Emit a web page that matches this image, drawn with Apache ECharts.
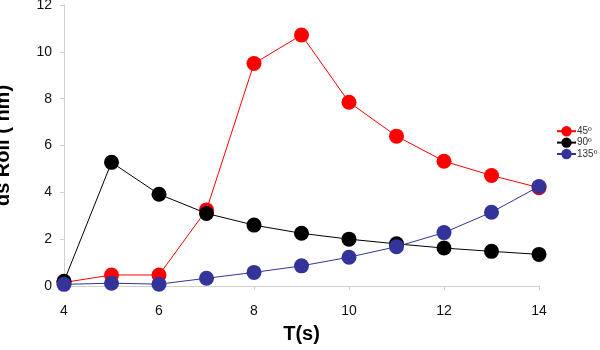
<!DOCTYPE html>
<html>
<head>
<meta charset="utf-8">
<script src="https://cdn.jsdelivr.net/npm/echarts@6/dist/echarts.min.js"></script>
<style>
  html, body { margin: 0; padding: 0; background: #fff; }
  #chart { width: 600px; height: 350px; }
</style>
</head>
<body>
<div id="chart"></div>
<script>
const times = [4, 5, 6, 7, 8, 9, 10, 11, 12, 13, 14];
const deg45 = [0.15, 0.47, 0.47, 3.25, 9.5, 10.72, 7.85, 6.4, 5.33, 4.72, 4.2];
const deg90 = [0.2, 5.28, 3.92, 3.1, 2.6, 2.25, 2.0, 1.8, 1.62, 1.48, 1.35];
const deg135 = [0.07, 0.12, 0.08, 0.33, 0.58, 0.86, 1.23, 1.68, 2.28, 3.15, 4.25];

const names = ["45º", "90º", "135º"];
const colors = ["#ff0000", "#000000", "#333399"];
const values = [deg45, deg90, deg135];

const font = "Liberation Sans, Arial, sans-serif";

const chart = echarts.init(document.getElementById("chart"), null, { renderer: "canvas" });

chart.setOption({
    animation: false,
    grid: { left: 64, right: 61, top: 5, bottom: 64, outerBoundsMode: "none" },
    legend: {
        orient: "vertical",
        left: 556,
        top: 126,
        padding: 0,
        itemGap: 1,
        itemWidth: 19,
        itemHeight: 13,
        textStyle: { fontFamily: font, fontSize: 10, color: "#333", padding: [0, 0, 0, -4] },
        data: names
    },
    xAxis: {
        type: "value",
        min: 4,
        max: 14,
        interval: 2,
        name: "T(s)",
        nameLocation: "middle",
        nameGap: 38,
        nameTextStyle: { fontFamily: font, fontSize: 20, fontWeight: "bold", color: "#000" },
        axisLine: { show: true, lineStyle: { color: "#d0d0d0", width: 1 } },
        axisTick: { show: true, length: 4, lineStyle: { color: "#d0d0d0" } },
        axisLabel: { fontFamily: font, fontSize: 14, color: "#111", margin: 18 },
        splitLine: { show: false }
    },
    yAxis: {
        type: "value",
        min: 0,
        max: 12,
        interval: 2,
        name: "ds Roll ( nm)",
        nameLocation: "middle",
        nameGap: 51,
        nameTextStyle: { fontFamily: font, fontSize: 20, fontWeight: "bold", color: "#000" },
        axisLine: { show: true, lineStyle: { color: "#d0d0d0", width: 1 } },
        axisTick: { show: true, length: 4, lineStyle: { color: "#d0d0d0" } },
        axisLabel: { fontFamily: font, fontSize: 14, color: "#111", margin: 12 },
        splitLine: { show: false }
    },
    series: names.map((name, i) => ({
        name: name,
        type: "line",
        data: times.map((t, j) => [t, values[i][j]]),
        symbol: "circle",
        symbolSize: 15,
        showSymbol: true,
        itemStyle: { color: colors[i] },
        lineStyle: { color: colors[i], width: 1 },
        z: 2 + i
    }))
});
</script>
</body>
</html>
